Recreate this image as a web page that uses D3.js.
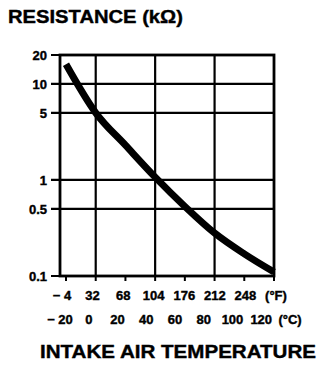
<!DOCTYPE html>
<html>
<head>
<meta charset="utf-8">
<script src="https://cdn.jsdelivr.net/npm/d3@7"></script>
<style>
  body { margin: 0; background: #fff; }
  text { font-family: "Liberation Sans", Arial, sans-serif; font-weight: bold; fill: #000;
         stroke: #000; stroke-width: 0.4px; }
</style>
</head>
<body>
<script>
// intake air temperature sensor curve
var tempC = [-20, 0, 20, 40, 60, 80, 100, 120];
var resistance = [16, 5.0, 2.3, 1.07, 0.53, 0.28, 0.17, 0.11];

var yTicks = [20, 10, 5, 1, 0.5, 0.1];
var yTickLabels = ["20", "10", "5", "1", "0.5", "0.1"];
var gridC = [0, 40, 80];
var tickC = [-20, 0, 20, 40, 60, 80, 100, 120];
var labelsF = ["\u2212 4", "32", "68", "104", "176", "212", "248", "(\u00b0F)"];
var labelsC = ["\u2212 20", "0", "20", "40", "60", "80", "100", "120", "(\u00b0C)"];

var W = 336, H = 366;
var plotL = 60, plotR = 274, plotT = 55, plotB = 276;

var svg = d3.select("body").append("svg")
    .attr("width", W)
    .attr("height", H);

var x = d3.scaleLinear().domain([-20, 120]).range([plotL + 6, plotR]);
var y = d3.scaleLog().domain([0.1, 20]).range([plotB, plotT]);

// titles
svg.append("text")
    .attr("x", 8).attr("y", 23)
    .style("font-size", "19px")
    .attr("textLength", 175).attr("lengthAdjust", "spacingAndGlyphs")
    .text("RESISTANCE (k\u03a9)");

svg.append("text")
    .attr("x", 40).attr("y", 358)
    .style("font-size", "19px")
    .attr("textLength", 276).attr("lengthAdjust", "spacingAndGlyphs")
    .text("INTAKE AIR TEMPERATURE");

// grid
svg.selectAll(".hgrid")
    .data(yTicks)
  .enter().append("line")
    .attr("x1", plotL - 9).attr("x2", plotR)
    .attr("y1", function(d) { return y(d); })
    .attr("y2", function(d) { return y(d); })
    .attr("stroke", "#000").attr("stroke-width", 2.2);

svg.selectAll(".vgrid")
    .data(gridC)
  .enter().append("line")
    .attr("x1", function(d) { return x(d); })
    .attr("x2", function(d) { return x(d); })
    .attr("y1", plotT).attr("y2", plotB)
    .attr("stroke", "#000").attr("stroke-width", 2.2);

// frame
svg.append("rect")
    .attr("x", plotL).attr("y", plotT)
    .attr("width", plotR - plotL).attr("height", plotB - plotT)
    .attr("fill", "none").attr("stroke", "#000").attr("stroke-width", 2.8);

// bottom ticks
svg.selectAll(".xtick")
    .data(tickC)
  .enter().append("line")
    .attr("x1", function(d) { return x(d); })
    .attr("x2", function(d) { return x(d); })
    .attr("y1", plotB).attr("y2", plotB + 5)
    .attr("stroke", "#000").attr("stroke-width", 2);

// y labels
svg.selectAll(".ylab")
    .data(yTicks)
  .enter().append("text")
    .attr("x", 47)
    .attr("y", function(d) { return y(d) + 5; })
    .attr("text-anchor", "end")
    .style("font-size", "13px")
    .text(function(d, i) { return yTickLabels[i]; });

// temperature label rows
var fRow = d3.scalePoint().domain(labelsF).range([62, 276]);
var cRow = d3.scalePoint().domain(labelsC).range([60, 290]);

svg.selectAll(".flab")
    .data(labelsF)
  .enter().append("text")
    .attr("x", function(d) { return fRow(d); })
    .attr("y", 300)
    .attr("text-anchor", "middle")
    .style("font-size", "13px")
    .text(function(d) { return d; });

svg.selectAll(".clab")
    .data(labelsC)
  .enter().append("text")
    .attr("x", function(d) { return cRow(d); })
    .attr("y", 324)
    .attr("text-anchor", "middle")
    .style("font-size", "13px")
    .text(function(d) { return d; });

// curve
var pts = tempC.map(function(t, i) { return {t: t, r: resistance[i]}; });
var line = d3.line()
    .x(function(d) { return x(d.t); })
    .y(function(d) { return y(d.r); })
    .curve(d3.curveMonotoneX);

svg.append("path")
    .attr("d", line(pts))
    .attr("fill", "none")
    .attr("stroke", "#000")
    .attr("stroke-width", 7)
    .attr("stroke-linecap", "butt");
</script>
</body>
</html>
